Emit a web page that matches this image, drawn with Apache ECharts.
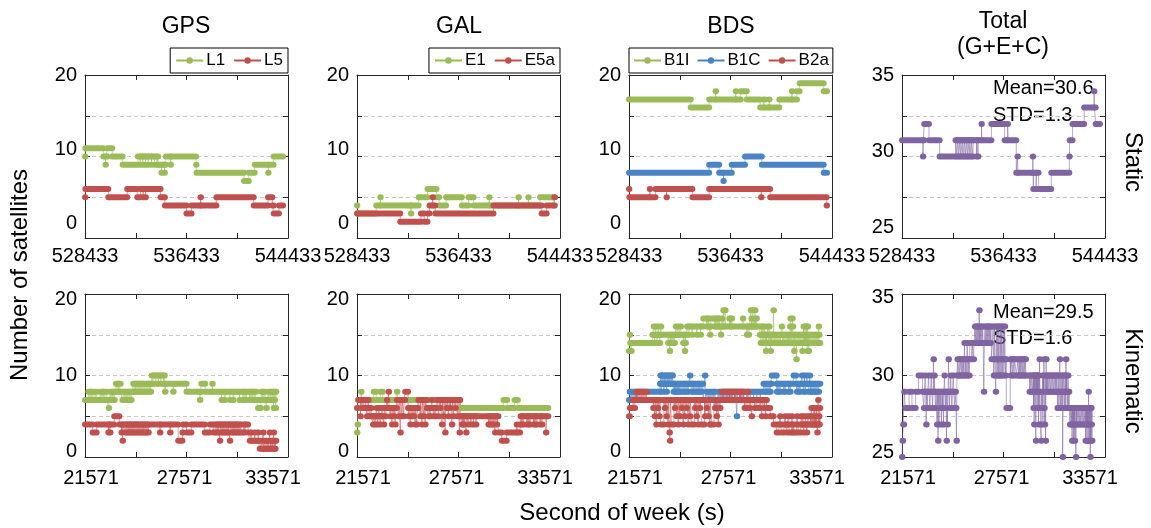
<!DOCTYPE html>
<html>
<head>
<meta charset="utf-8">
<title>Number of satellites</title>
<script src="https://cdn.jsdelivr.net/npm/echarts@6/dist/echarts.min.js"></script>
<style>
  html, body { margin: 0; padding: 0; background: #ffffff; }
  #chart { width: 1151px; height: 528px; }
</style>
</head>
<body>
<div id="chart"></div>
<script>
// ---------------------------------------------------------------------------
// Axis ticks and labels
// ---------------------------------------------------------------------------
const STATIC_X_TICKS = [528433, 532433, 536433, 540433, 544433];
const STATIC_X_LABELS = [528433, 536433, 544433];
const KIN_X_TICKS = [21571, 24571, 27571, 30571, 33571];
const KIN_X_LABELS = [21571, 27571, 33571];
const COUNT_Y_LABELS = [0, 10, 20];
const TOTAL_Y_LABELS = [25, 30, 35];
const EPOCH = 30; // seconds per observation epoch

// ---------------------------------------------------------------------------
// Satellite counts.
// *_LEV : level changes [second of week, count]; a count holds until the next
//         entry, the last entry closes the series.
// *_DEP : short departures from the level, [from, to, count] or [at, count]
//         for a single epoch.
// ---------------------------------------------------------------------------

// ---- Static: GPS ----
const GPS_S_L1_LEV = [[528433,10],[528460,11],[529880,10],[530190,11],[530580,10],[531400,9],[532600,10],[534200,9],[534800,10],[537190,9],[537220,8],[540970,7],[541340,8],[541810,9],[543300,10],[544040,10]];
const GPS_S_L1_DEP = [[530050,9],[532770,9],[532980,9],[533190,9],[533400,9],[533660,9],[533900,9],[534110,9],[534460,8],[534700,8],[535180,9],[542870,8]];
const GPS_S_L5_LEV = [[528433,5],[528460,6],[530270,5],[531760,6],[532550,5],[532800,6],[534390,5],[534730,4],[536430,3],[536830,4],[538790,5],[541730,4],[542860,5],[543200,4],[543310,3],[543720,4],[544040,4]];
const GPS_S_L5_DEP = [[533000,5],[533200,5],[537540,5]];

// ---- Static: Galileo ----
const GAL_S_E1_LEV = [[528433,4],[528460,3],[529950,4],[533290,5],[533990,6],[534700,5],[534900,4],[535460,5],[536700,4],[537220,5],[537620,4],[542860,5],[543910,4],[544040,4]];
const GAL_S_E1_DEP = [[530270,5],[532680,3],[538850,5],[541160,5],[541940,5]];
const GAL_S_E5A_LEV = [[528433,3],[531840,2],[533470,3],[533730,2],[533990,3],[534150,4],[534600,3],[539190,4],[542990,3],[543380,4],[543990,5],[544040,5]];
const GAL_S_E5A_DEP = [[534390,5]];

// ---- Static: BDS ----
const BDS_S_B1I_LEV = [[528433,17],[533300,16],[534750,17],[537240,18],[537710,17],[538770,16],[539030,17],[539160,16],[540280,17],[541670,18],[541880,19],[543780,18],[544040,18]];
const BDS_S_B1I_DEP = [[535260,18],[536840,18],[539480,17],[541270,18]];
const BDS_S_B1C_LEV = [[528433,8],[534750,9],[535540,8],[536530,9],[537580,10],[538900,9],[543780,8],[544040,8]];
const BDS_S_B1C_DEP = [[535870,7]];
const BDS_S_B2A_LEV = [[528433,6],[528460,5],[530520,6],[533430,5],[534750,6],[539560,5],[544010,4],[544040,4]];
const BDS_S_B2A_DEP = [[530070,6],[531390,5],[538850,5]];

// ---- Static: total ----
const TOT_S_LEV = [[528433,31],[530180,32],[530560,31],[531400,30],[532650,31],[535480,32],[536520,31],[537440,29],[539200,28],[540200,29],[541620,30],[541650,31],[541870,32],[542790,33],[543700,32],[544040,32]];
const TOT_S_DEP = [[530080,30],[532760,30],[532900,30],[533040,30],[533180,30],[533320,30],[533460,30],[533600,30],[533740,30],[533880,30],[534020,30],[534300,30],[534430,30],[534700,32],[536760,32],[537540,30],[538740,30],[538780,28],[539000,28],[543570,34]];

// ---- Kinematic: GPS ----
const GPS_K_L1_LEV = [[21571,7],[21770,8],[22060,7],[22460,8],[22750,7],[23240,8],[23400,9],[23680,8],[23780,7],[24130,8],[24420,9],[25510,10],[26290,9],[27570,8],[31700,7],[32580,8],[32880,8]];
const GPS_K_L1_DEP = [[21860,7],[21950,7],[22150,8],[22250,8],[22350,7],[22550,7],[22650,7],[22850,8],[22970,6],[23080,8],[23160,8],[23300,7],[23500,8],[23580,8],[23860,8],[23950,8],[24050,8],[24200,7],[24300,7],
  [24500,8],[24580,8],[24680,8],[24780,8],[24870,8],[24970,8],[25070,8],[25170,8],[25270,8],[25370,8],[25450,8],
  [25600,9],[25750,9],[25900,9],[26050,9],[26200,9],[26300,8],[26780,8],
  [28360,7],[28450,28650,9],[29090,9],[29640,7],[29830,7],[30130,7],[30320,7],[30700,7],[30900,7],[31000,7],[31110,7],[31300,7],[31400,7],[31500,7],[31600,7],
  [31800,31940,6],[32000,8],[32100,8],[32200,8],[32290,6],[32400,8],[32500,8],[32650,7],[32720,6],[32780,7],[32840,6]];
const GPS_K_L5_LEV = [[21571,4],[22020,3],[22260,4],[23300,5],[23600,4],[27080,2],[27330,3],[27370,4],[27570,3],[27860,4],[28650,3],[28950,4],[29140,3],[29240,4],[31210,3],[31310,2],[31900,1],[32840,2],[32880,2]];
const GPS_K_L5_DEP = [[22950,3],[23050,3],[23730,3],[23790,2],[23930,3],[24030,3],[24130,3],[24230,3],[24320,3],[24420,3],[24520,3],[24620,3],[24720,3],[24820,3],[24920,3],[25010,3],[25110,3],[25210,3],[25310,3],[26000,3],[26600,3],
  [29340,3],[29440,3],[29540,2],[29630,3],[29730,3],[29830,3],[29930,3],[30030,3],[30130,2],[30230,3],[30330,3],[30420,3],[30520,3],[30620,3],[30720,3],[30820,30920,3],[31020,3],
  [31400,3],[31600,3],[31800,3],[32000,2],[32100,3],[32190,2],[32300,2],[32390,2],[32490,3],[32560,2],[32650,2],[32720,3],[32790,2]];

// ---- Kinematic: Galileo ----
const GAL_K_E1_LEV = [[21571,3],[21600,4],[21640,7],[27670,6],[32880,6]];
const GAL_K_E1_DEP = [[21810,8],[22560,22680,8],[22950,23070,8],[23930,8],[30230,30420,7],[30880,31050,7]];
const GAL_K_E5A_LEV = [[21571,6],[21650,7],[22000,6],[22300,5],[23180,6],[23930,7],[24480,6],[25200,7],[25700,6],[26300,7],[27670,5],[29930,3],[30130,2],[30420,3],[31210,5],[32880,5]];
const GAL_K_E5A_DEP = [[21770,5],[21870,6],[22080,7],[22160,5],[22230,7],[22400,6],[22520,4],[22650,4],[22720,6],[22790,4],[22870,6],[22950,4],[23060,6],[23150,4],
  [23260,5],[23340,7],[23440,8],[23540,5],[23640,4],[23740,5],[23830,4],[24030,5],[24130,3],[24230,5],[24330,5],[24420,24560,8],[24620,5],[24720,4],[24820,5],[24920,5],[25010,4],[25110,4],[25310,5],[25410,4],[25500,5],[25600,4],
  [25800,5],[25900,5],[26000,7],[26100,5],[26190,5],[26390,5],[26490,6],[26590,4],[26690,5],[26780,3],[26880,6],[26980,5],[27080,6],[27180,4],[27280,5],[27380,6],[27510,5],[27630,3],
  [27770,4],[27840,4],[27900,4],[28020,3],[28150,4],[28300,4],[28450,4],[28600,4],[29340,4],[29440,4],[29540,4],[29640,4],[29730,3],[29830,4],
  [31010,4],[31210,4],[31300,4],[31400,4],[31600,4],[31700,4],[31800,4],[32000,4],[32100,4],[32200,4],[32390,4],[32500,4],[32740,3]];

// ---- Kinematic: BDS ----
const BDS_K_B1I_LEV = [[21571,13],[21630,14],[22950,15],[25000,16],[29300,15],[31000,14],[32880,14]];
const BDS_K_B1I_DEP = [[21610,15],[21700,13],
  [23030,16],[23090,14],[23150,16],[23230,14],[23310,16],[23390,14],[23450,16],[23880,14],[23950,14],[23980,13],[24020,14],[24100,14],[24180,14],[24260,14],[24340,16],[24480,16],[24620,16],[24770,14],[24840,14],[24870,13],[24910,14],
  [25100,15],[25300,15],[25570,15],[25800,15],[25960,26120,17],[26200,17],[26280,17],[26360,15],[26430,26590,17],[26670,17],[26750,17],[26830,17],[26910,17],[27000,15],[27060,17],[27150,18],[27250,18],[27500,17],[27570,17],[27640,17],[28300,17],[28530,15],[28650,15],[28770,18],[28810,17],[28890,18],[28970,17],[29020,18],[29100,17],
  [29350,14],[29400,16],[29440,14],[29490,16],[29530,14],[29580,16],[29620,14],[29660,13],[29710,14],[29760,16],[29800,14],[29850,16],[29890,14],[29940,13],[29980,14],[30070,14],[30110,18],[30160,14],[30250,14],[30340,14],[30430,14],[30520,14],[30600,16],[30650,14],[30700,14],[30790,14],[30880,14],[30960,14],
  [31050,15],[31090,16],[31110,17],[31170,16],[31210,15],[31230,17],[31250,16],[31290,15],[31330,13],[31370,15],[31450,15],[31460,12],[31530,15],[31610,15],[31690,15],[31770,15],[31810,13],[31850,15],[31890,16],[31930,15],[31970,16],[32010,15],[32050,16],[32090,15],[32110,13],[32130,16],[32170,15],[32190,13],[32250,15],[32330,15],[32410,15],[32490,15],[32570,15],[32650,15],[32730,15],[32780,16],[32810,15]];
const BDS_K_B1C_LEV = [[21571,7],[22100,8],[23400,9],[24200,8],[24570,9],[25960,7],[27740,8],[29520,9],[32880,9]];
const BDS_K_B1C_DEP = [[21610,8],[21700,8],[21810,8],[21900,8],[22000,8],
  [23430,10],[23470,8],[23510,10],[23590,10],[23630,8],[23670,10],[23750,10],[23790,8],[23830,10],[23900,10],[23980,10],[24060,10],[24140,10],
  [24250,9],[24300,9],[24380,9],[24450,9],[24520,9],
  [24650,8],[24770,8],[24870,8],[24970,8],[25070,8],[25170,10],[25270,8],[25370,8],[25470,8],[25570,8],[25670,8],[25760,8],[25860,8],[26060,10],
  [26160,8],[26260,8],[26360,8],[26460,8],[26560,8],[26650,8],[26750,6],[26850,8],[26950,8],[27050,8],[27150,8],[27250,8],[27350,8],[27450,8],[27550,8],[27650,8],
  [27840,7],[27940,5],[28140,7],[28330,7],[28530,7],[28730,7],[28930,7],[29120,7],[29320,7],
  [29620,8],[29720,8],[29820,8],[29920,8],[30010,30270,10],[30310,8],[30410,8],[30510,8],[30700,8],[30800,8],[31000,8],[31100,8],[31300,31420,10],[31500,8],[31590,8],[31690,8],[31790,10],[31890,8],[31930,10],[31990,8],[32090,10],[32190,8],[32250,10],[32290,8],[32380,8],[32480,8],[32580,8],[32680,8],[32780,8]];
const BDS_K_B2A_LEV = [[21571,5],[21620,6],[21800,7],[27050,8],[28280,7],[29720,6],[29920,5],[30120,4],[32880,4]];
const BDS_K_B2A_DEP = [[21900,6],[22000,8],[22100,8],[22200,8],[22300,8],[22400,8],[22500,8],[22600,8],
  [23000,6],[23090,5],[23180,4],[23270,6],[23360,5],[23450,23600,4],[23690,6],[23780,5],[23880,4],[23960,3],[23990,2],[24080,24200,4],[24280,6],[24380,5],[24480,4],[24580,5],[24680,6],[24780,4],[24870,5],[24970,6],[25070,4],[25170,5],[25260,25400,4],[25470,6],[25560,5],[25660,4],[25760,6],[25860,26000,4],[26060,5],[26160,6],[26260,5],[26350,4],[26450,26560,4],[26650,6],[26750,5],[26850,4],[26950,6],
  [27150,7],[27350,7],[27500,7],[27640,7],[27800,7],[27940,7],[28100,7],[28200,7],
  [28350,8],[28400,6],[28530,6],[28600,8],[28700,6],[28820,5],[29000,6],[29120,6],[29300,6],[29420,5],[29550,6],[29650,5],
  [30300,30400,3],[30500,5],[30600,30700,3],[30800,5],[30900,3],[31000,5],[31050,31150,3],[31200,5],[31250,3],[31350,31450,3],[31500,5],[31600,31700,3],[31750,5],[31850,5],[31900,3],[32000,5],[32080,3],[32150,5],[32300,5],[32350,6],[32450,5],[32500,6],[32550,6],[32600,5],[32650,6],[32700,3],[32750,7],[32800,5],[32850,6]];

// ---- Kinematic: total ----
const TOT_K_LEV = [[21571,25],[21600,26],[21640,27],[21700,29],[24800,30],[25190,31],[25580,32],[26860,31],[28330,30],[30680,29],[31460,28],[32830,28]];
const TOT_K_DEP = [[21770,21960,28],[22160,22350,28],[22550,22750,30],
  [22860,28],[22940,30],[23000,27],[23060,28],[23140,30],[23220,28],[23300,30],[23380,28],[23430,31],[23480,30],[23560,28],[23640,27],[23700,26],[23760,27],[23830,28],[23900,27],[23960,28],[24020,27],[24080,30],[24140,28],[24200,26],[24260,27],[24320,31],[24380,28],[24450,30],[24520,28],[24600,30],[24680,28],[24760,28],[24790,26],
  [24850,31],[24950,31],[25050,31],[25120,31],[25230,30],[25260,32],[25310,30],[25390,30],[25420,32],[25470,30],[25540,30],
  [25700,31],[25800,31],[25880,33],[25950,33],[26020,33],[26090,33],[26133,34],[26200,33],[26270,33],[26340,33],[26407,29],[26480,33],[26550,33],[26620,33],[26690,33],[26760,33],[26830,33],
  [26960,33],[26990,30],[27040,33],[27080,30],[27110,29],[27150,33],[27190,30],[27230,33],[27270,30],[27300,33],[27350,30],[27390,33],[27420,30],[27460,33],[27500,30],[27550,33],[27590,30],[27640,33],[27700,30],[27740,27940,28],[28000,30],[28100,30],[28200,30],
  [28420,31],[28500,31],[28560,31],[28640,31],[28720,31],[28800,31],[28870,31],[29110,29],[29200,29],[29300,29],[29340,28],[29380,27],[29430,29],[29480,26],[29520,29],[29560,28],[29600,29],[29640,27],[29680,28],[29700,31],[29730,29],[29760,27],[29790,26],[29820,29],[29850,28],[29900,27],[29940,29],[29960,31],[29990,28],[30010,27],[30060,26],[30090,31],[30120,29],[30170,29],[30260,29],[30350,29],[30440,29],[30530,29],[30620,29],
  [30720,30],[30760,28],[30800,30],[30840,28],[30880,30],[30900,31],[30930,28],[30970,30],[31010,28],[31050,30],[31067,25],[31130,30],[31170,28],[31210,30],[31250,28],[31260,31],[31300,30],[31340,28],[31380,30],[31420,28],
  [31500,27],[31580,27],[31620,26],[31660,27],[31700,26],[31740,27],[31780,26],[31820,27],[31850,25],[31900,27],[31980,27],[32060,27],[32140,27],[32220,27],[32300,27],[32380,27],[32420,26],[32460,27],[32500,26],[32540,27],[32580,26],[32600,29],[32620,27],[32660,26],[32700,25],[32740,26],[32780,27],[32800,26]];

// ---------------------------------------------------------------------------
// Styling
// ---------------------------------------------------------------------------
const GREEN = '#9bbb59', RED = '#c0504d', BLUE = '#4a84c4', PURPLE = '#8064a2';
const FONT = "'Liberation Sans', Arial, Helvetica, sans-serif";
const AXIS_COLOR = '#262626';
const COL_LEFT = [85, 357, 629, 902];
const ROW_TOP = [75, 294];
const PLOT_W = 203, PLOT_H = 163;
// nudges (px) of tick labels away from their ticks, per row: y labels (negative = up),
// x labels (positive = right)
const Y_LABEL_NUDGE = [
  { count: { 0: -15, 10: -7, 20: 0 }, total: { 25: -11, 30: -5, 35: 0 } },
  { count: { 0: -6, 10: 0, 20: 5 }, total: { 25: -5, 30: 0, 35: 3 } }
];
const X_LABEL_NUDGE = [[0, 0, 0], [6, -2, -15]];

const PANELS = [
  { col: 0, row: 0, x: 'static', y: 'count', series: [['L1', GREEN, GPS_S_L1_LEV, GPS_S_L1_DEP], ['L5', RED, GPS_S_L5_LEV, GPS_S_L5_DEP]] },
  { col: 1, row: 0, x: 'static', y: 'count', series: [['E1', GREEN, GAL_S_E1_LEV, GAL_S_E1_DEP], ['E5a', RED, GAL_S_E5A_LEV, GAL_S_E5A_DEP]] },
  { col: 2, row: 0, x: 'static', y: 'count', series: [['B1I', GREEN, BDS_S_B1I_LEV, BDS_S_B1I_DEP], ['B1C', BLUE, BDS_S_B1C_LEV, BDS_S_B1C_DEP], ['B2a', RED, BDS_S_B2A_LEV, BDS_S_B2A_DEP]] },
  { col: 3, row: 0, x: 'static', y: 'total', series: [['Total', PURPLE, TOT_S_LEV, TOT_S_DEP]] },
  { col: 0, row: 1, x: 'kin', y: 'count', series: [['L1', GREEN, GPS_K_L1_LEV, GPS_K_L1_DEP], ['L5', RED, GPS_K_L5_LEV, GPS_K_L5_DEP]] },
  { col: 1, row: 1, x: 'kin', y: 'count', series: [['E1', GREEN, GAL_K_E1_LEV, GAL_K_E1_DEP], ['E5a', RED, GAL_K_E5A_LEV, GAL_K_E5A_DEP]] },
  { col: 2, row: 1, x: 'kin', y: 'count', series: [['B1I', GREEN, BDS_K_B1I_LEV, BDS_K_B1I_DEP], ['B1C', BLUE, BDS_K_B1C_LEV, BDS_K_B1C_DEP], ['B2a', RED, BDS_K_B2A_LEV, BDS_K_B2A_DEP]] },
  { col: 3, row: 1, x: 'kin', y: 'total', series: [['Total', PURPLE, TOT_K_LEV, TOT_K_DEP]] }
];

// Turn level changes + departures into an ordered list of [time, count] change points.
function decode(levels, departuresRaw) {
  const departures = departuresRaw.map(d => (d.length === 2 ? [d[0], d[0], d[1]] : d));
  const end = levels[levels.length - 1][0];
  const cuts = new Set(levels.map(p => p[0]));
  departures.forEach(d => { cuts.add(d[0]); cuts.add(Math.min(d[1] + EPOCH, end)); });
  const times = Array.from(cuts).sort((a, b) => a - b);
  const valueAt = t => {
    for (let i = departures.length - 1; i >= 0; i--) {
      const d = departures[i];
      if (t >= d[0] && t < d[1] + EPOCH && t < end) return d[2];
    }
    let v = levels[0][1];
    for (const p of levels) { if (p[0] <= t) v = p[1]; else break; }
    return v;
  };
  const pts = [];
  times.forEach((t, i) => {
    const v = valueAt(t);
    if (i > 0 && i < times.length - 1 && pts[pts.length - 1][1] === v) return;
    pts.push([t, v]);
  });
  return pts;
}

// Horizontal runs [t0, t1, count] drawn as a thick band of epoch markers.
function runs(pts) {
  const out = [];
  for (let i = 0; i < pts.length - 1; i++) out.push([pts[i][0], pts[i + 1][0], pts[i][1]]);
  const last = pts[pts.length - 1];
  out.push([last[0], last[0], last[1]]);
  return out;
}

const grid = [], xAxis = [], yAxis = [], series = [];

PANELS.forEach((p, i) => {
  grid.push({ left: COL_LEFT[p.col], top: ROW_TOP[p.row], width: PLOT_W, height: PLOT_H, outerBoundsMode: 'none' });

  const xStatic = p.x === 'static';
  const xTicks = xStatic ? STATIC_X_TICKS : KIN_X_TICKS;
  const xLabels = xStatic ? STATIC_X_LABELS : KIN_X_LABELS;
  const xMin = xTicks[0], xMax = xTicks[xTicks.length - 1];
  const axisLine = { show: true, onZero: false, lineStyle: { color: AXIS_COLOR, width: 1 } };
  const tick = { show: true, inside: true, length: 5, lineStyle: { color: AXIS_COLOR, width: 1 } };

  const xRich = {};
  xLabels.forEach((v, k) => {
    const n = X_LABEL_NUDGE[p.row][k];
    xRich['x' + k] = { fontSize: 20, fontFamily: FONT, color: '#000', padding: n >= 0 ? [0, 0, 0, 2 * n] : [0, -2 * n, 0, 0] };
  });
  xAxis.push({
    type: 'value', gridIndex: i, position: 'bottom', min: xMin, max: xMax,
    axisLine, axisTick: Object.assign({ customValues: xTicks }, tick),
    axisLabel: {
      customValues: xLabels, fontSize: 20, color: '#000', fontFamily: FONT, margin: xStatic ? 8 : 11, rich: xRich,
      formatter: v => { const k = xLabels.indexOf(v); return k >= 0 ? '{x' + k + '|' + v + '}' : String(v); }
    },
    splitLine: { show: false }
  });
  xAxis.push({
    type: 'value', gridIndex: i, position: 'top', min: xMin, max: xMax,
    axisLine, axisTick: Object.assign({ customValues: xTicks }, tick),
    axisLabel: { show: false }, splitLine: { show: false }
  });

  const yTotal = p.y === 'total';
  const yLabels = yTotal ? TOTAL_Y_LABELS : COUNT_Y_LABELS;
  const nudge = Y_LABEL_NUDGE[p.row][p.y];
  const yMin = yLabels[0], yMax = yLabels[yLabels.length - 1];
  const yStep = yTotal ? 2.5 : 5;
  const rich = {};
  yLabels.forEach((v, k) => {
    const n = nudge[v] || 0;
    rich['n' + k] = { fontSize: 20, fontFamily: FONT, color: '#000', padding: n < 0 ? [0, 0, -2 * n, 0] : [2 * n, 0, 0, 0] };
  });
  yAxis.push({
    type: 'value', gridIndex: i, position: 'left', min: yMin, max: yMax, interval: yStep,
    axisLine, axisTick: tick,
    axisLabel: {
      fontSize: 20, color: '#000', fontFamily: FONT, margin: 8, rich,
      formatter: v => { const k = yLabels.indexOf(v); return k >= 0 ? '{n' + k + '|' + v + '}' : ''; }
    },
    splitLine: { show: true, lineStyle: { color: '#c8c8c8', width: 1, type: [4, 3] } }
  });
  yAxis.push({
    type: 'value', gridIndex: i, position: 'right', min: yMin, max: yMax, interval: yStep,
    axisLine, axisTick: tick, axisLabel: { show: false }, splitLine: { show: false }
  });

  p.series.forEach(([name, color, lev, dep]) => {
    const pts = decode(lev, dep);
    series.push({
      name, type: 'line', xAxisIndex: 2 * i, yAxisIndex: 2 * i, step: 'end',
      data: pts, color, symbol: 'circle', symbolSize: 6, showSymbol: false,
      lineStyle: { color, width: 1, opacity: 0.55 }, silent: true, animation: false, z: 2
    });
    series.push({
      name, type: 'custom', xAxisIndex: 2 * i, yAxisIndex: 2 * i, clip: false,
      data: runs(pts), encode: { x: [0, 1], y: 2 }, silent: true, animation: false, z: 3,
      renderItem: (params, api) => {
        const a = api.coord([api.value(0), api.value(2)]);
        const b = api.coord([api.value(1), api.value(2)]);
        return {
          type: 'line',
          shape: { x1: a[0], y1: a[1], x2: b[0], y2: b[1] },
          style: { stroke: color, lineWidth: 6, lineCap: 'round', fill: null }
        };
      }
    });
  });
});

const legendCommon = {
  orient: 'horizontal', top: 48, itemWidth: 27, itemHeight: 8, itemGap: 8,
  padding: [4, 5, 4, 5], borderColor: '#000', borderWidth: 1, backgroundColor: '#fff',
  textStyle: { fontSize: 17, color: '#000', fontFamily: FONT, padding: [0, 0, 0, -2] },
  lineStyle: { opacity: 1, width: 2 }, itemStyle: { opacity: 1 }, selectedMode: false
};

const txt = (text, x, y, size, extra) => Object.assign({
  type: 'text', x, y, silent: true,
  style: { text, fontSize: size, fontFamily: FONT, fill: '#000', align: 'center', verticalAlign: 'middle' }
}, extra || {});
const note = (text, x, y) => ({
  type: 'text', x, y, silent: true,
  style: { text, fontSize: 20, fontFamily: FONT, fill: '#000', align: 'left', verticalAlign: 'middle' }
});

const option = {
  backgroundColor: '#fff',
  animation: false,
  grid, xAxis, yAxis, series,
  legend: [
    Object.assign({ data: ['L1', 'L5'], right: 1151 - 288 }, legendCommon),
    Object.assign({ data: ['E1', 'E5a'], right: 1151 - 560 }, legendCommon),
    Object.assign({ data: ['B1I', 'B1C', 'B2a'], left: 629 }, legendCommon, { itemGap: 7, padding: [4, 4, 4, 4] })
  ],
  graphic: [
    txt('GPS', 186, 27, 23),
    txt('GAL', 459, 27, 23),
    txt('BDS', 731, 27, 23),
    txt('Total', 1003, 22, 23),
    txt('(G+E+C)', 1003, 48, 23),
    txt('Number of satellites', 20, 275, 24, { rotation: Math.PI / 2 }),
    txt('Second of week (s)', 622, 513, 24),
    txt('Static', 1133, 162, 24, { rotation: -Math.PI / 2 }),
    txt('Kinematic', 1133, 381, 24, { rotation: -Math.PI / 2 }),
    note('Mean=30.6', 993, 88),
    note('STD=1.3', 993, 115),
    note('Mean=29.5', 993, 312),
    note('STD=1.6', 993, 338)
  ]
};

const chart = echarts.init(document.getElementById('chart'), null, { renderer: 'canvas' });
chart.setOption(option);
</script>
</body>
</html>
